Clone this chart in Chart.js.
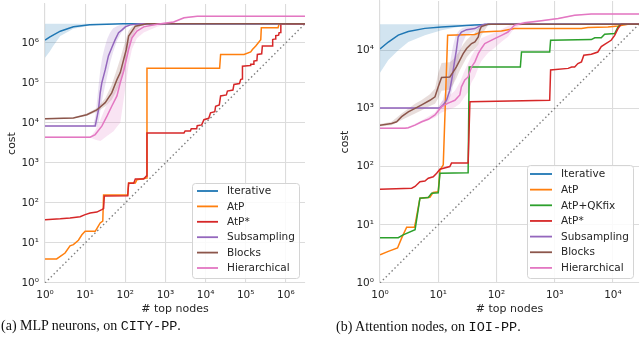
<!DOCTYPE html>
<html>
<head>
<meta charset="utf-8">
<script src="https://cdn.jsdelivr.net/npm/chart.js@4.4.1/dist/chart.umd.min.js"></script>
<style>
  html, body { margin: 0; padding: 0; background: #fff; }
  body { width: 640px; height: 343px; position: relative; overflow: hidden; }
  canvas { position: absolute; top: 0; }
  #left { left: 0; }
  #right { left: 320px; }
  .cap { position: absolute; font-family: "Liberation Serif", serif; font-size: 14px; color: #111; white-space: nowrap; }
  .cap span { font-family: "Liberation Mono", monospace; font-size: 13.5px; }
</style>
</head>
<body>
<canvas id="left" width="320" height="320"></canvas>
<canvas id="right" width="320" height="320"></canvas>
<div class="cap" style="left:1px; top:318px">(a) MLP neurons, on <span>CITY-PP</span>.</div>
<div class="cap" style="left:336px; top:319px">(b) Attention nodes, on <span>IOI-PP</span>.</div>
<script>
// tick values (powers of ten)
const leftTicks = [1, 10, 100, 1e3, 1e4, 1e5, 1e6];
const rightTicks = [1, 10, 100, 1e3, 1e4];

// ---------- (a) MLP neurons, CITY-PP ----------
const itLX = [1, 1.33, 2.4, 5.1, 13, 91, 3e6];
const itLY = [1.17e6, 1.4e6, 1.95e6, 2.5e6, 2.8e6, 2.98e6, 3e6];
const itLBandX = [1, 1.3, 1.6, 2.4, 5.1, 13, 91, 3e6];
const itLBandLo = [4.2e5, 6e5, 8.3e5, 1.47e6, 2.24e6, 2.7e6, 3e6, 3e6];
const itLBandHi = [3e6, 3e6, 3e6, 3e6, 3e6, 3e6, 3e6, 3e6];

const atpLX = [1, 1.95, 3.16, 4.2, 5.1, 6.8, 8.3, 10, 17.8, 20.4, 23.7, 27.5, 28.8, 115, 121, 178, 195, 335, 347,
  2.24e4, 2.37e4, 9.1e4, 1.33e5, 1.47e5, 1.78e5, 2.37e5, 2.45e5, 6.4e5, 6.8e5, 3e6];
const atpLY = [4, 4, 5.6, 8.5, 9.1, 11.7, 16, 19.5, 19.5, 24.5, 31.6, 35, 158, 158, 316, 316, 380, 420, 2.3e5,
  2.3e5, 5.1e5, 5.1e5, 5.9e5, 6.8e5, 8.3e5, 1.2e6, 2.37e6, 2.37e6, 3e6, 3e6];

const atpsLX = [1, 2.4, 4.2, 7.5, 10, 13.3, 19.5, 26, 28.8, 30, 115, 121, 162, 178, 288, 335, 347,
  2900, 3100, 4200, 4400, 6000, 6200, 8000, 9100, 1.2e4, 1.33e4, 1.7e4, 1.78e4, 2.2e4, 2.37e4, 3.3e4, 3.5e4,
  4.8e4, 5.1e4, 7e4, 7.5e4, 8.1e4, 8.3e4, 1.3e5, 1.33e5, 1.55e5, 1.6e5, 1.9e5, 1.95e5, 2.5e5, 2.6e5,
  4.6e5, 4.7e5, 5.4e5, 5.6e5, 6.6e5, 6.8e5, 7.4e5, 7.5e5, 3e6];
const atpsLY = [38, 40, 42, 45, 51, 56, 59, 68, 72, 148, 150, 309, 309, 398, 398, 468, 5600,
  5600, 6300, 6300, 7100, 7100, 8500, 8900, 1.2e4, 1.3e4, 1.78e4, 1.9e4, 2.6e4, 2.8e4, 4.7e4, 5e4, 6.2e4,
  6.6e4, 9.1e4, 9.6e4, 1.2e5, 1.25e5, 2.6e5, 2.7e5, 2.9e5, 2.9e5, 3.5e5, 3.6e5, 5.1e5, 5.3e5, 8.3e5,
  8.3e5, 1.2e6, 1.25e6, 1.5e6, 1.55e6, 1.78e6, 1.8e6, 3e6, 3e6];

const subLX = [1, 17.8, 21.5, 23.7, 26, 31.6, 38, 46, 56, 68, 83, 100, 133, 237, 3e6];
const subLY = [8300, 8300, 2.1e4, 5.6e4, 1e5, 2.1e5, 4.7e5, 7.5e5, 1.2e6, 1.78e6, 2.1e6, 2.5e6, 2.8e6, 2.98e6, 3e6];
const subLBandX = [1, 16, 18, 20, 22, 24, 27, 31, 36, 42, 50, 62, 80, 110, 200, 3e6];
const subLBandHi = [8600, 8600, 1.5e4, 4e4, 1e5, 2.2e5, 4.5e5, 8e5, 1.3e6, 1.8e6, 2.3e6, 2.6e6, 2.85e6, 2.95e6, 3e6, 3e6];
const subLBandLo = [8000, 8000, 8000, 8000, 1.1e4, 2e4, 4e4, 8e4, 1.6e5, 3.2e5, 6e5, 1.1e6, 1.8e6, 2.5e6, 2.95e6, 3e6];

const blkLX = [1, 5.1, 11, 19.5, 31.6, 46, 62, 75, 91, 106, 121, 147, 178, 347, 3e6];
const blkLY = [1.26e4, 1.33e4, 1.6e4, 2.1e4, 3.2e4, 5.6e4, 1.2e5, 1.8e5, 3.8e5, 6.8e5, 1.47e6, 1.95e6, 2.6e6, 3e6, 3e6];
const blkLBandX = [1, 5, 11, 20, 32, 46, 62, 75, 91, 106, 121, 147, 178, 250, 500, 3e6];
const blkLBandHi = [1.3e4, 1.38e4, 1.7e4, 2.4e4, 4.2e4, 9e4, 2.2e5, 4e5, 8e5, 1.3e6, 2e6, 2.5e6, 2.85e6, 3e6, 3e6, 3e6];
const blkLBandLo = [1.22e4, 1.28e4, 1.5e4, 1.9e4, 2.6e4, 3.8e4, 6.5e4, 1e5, 1.9e5, 3.5e5, 7e5, 1.3e6, 2e6, 2.7e6, 3e6, 3e6];

const hieLX = [1, 13.3, 17.8, 26, 35, 46, 62, 75, 91, 106, 121, 147, 195, 288, 620, 1600, 2900, 6200, 3e6];
const hieLY = [4400, 4400, 5100, 8300, 1.47e4, 2.6e4, 4.7e4, 1e5, 1.95e5, 3.8e5, 6.8e5, 1.33e6, 1.95e6, 2.5e6, 2.9e6, 3.3e6, 4.2e6, 4.6e6, 4.6e6];
const hieLBandX = [1, 14, 18, 24, 35, 51, 62, 75, 91, 106, 121, 147, 195, 288, 620, 1600, 2900, 6200, 3e6];
const hieLBandHi = [4600, 4600, 6500, 1.2e4, 3e4, 6e4, 9e4, 2e5, 4.5e5, 9e5, 1.4e6, 2e6, 2.5e6, 2.8e6, 3.05e6, 3.4e6, 4.35e6, 4.75e6, 4.75e6];
const hieLBandLo = [4200, 4200, 3800, 3500, 4700, 6200, 8000, 1e4, 3.8e4, 1.1e5, 2.8e5, 7e5, 1.3e6, 1.8e6, 2.5e6, 3.1e6, 4e6, 4.45e6, 4.45e6];

// ---------- (b) Attention nodes, IOI-PP ----------
const itRX = [1, 1.39, 2.06, 3.06, 5.9, 11.4, 22, 42.6, 82, 2.8e4];
const itRY = [1.05e4, 1.38e4, 1.82e4, 2.1e4, 2.37e4, 2.5e4, 2.6e4, 2.7e4, 2.8e4, 2.8e4];
const itRBandLo = [4100, 6800, 1e4, 1.38e4, 1.8e4, 2.2e4, 2.5e4, 2.7e4, 2.8e4, 2.8e4];
const itRBandHi = [2.8e4, 2.8e4, 2.8e4, 2.8e4, 2.8e4, 2.8e4, 2.8e4, 2.8e4, 2.8e4, 2.8e4];

const atpRX = [1, 1.39, 2, 2.35, 2.87, 3.9, 4.1, 4.85, 7.2, 8.2, 10, 10.7, 12.2, 14.5, 42.6, 55, 122, 158, 205,
  2880, 3720, 8200, 1.22e4, 1.8e4, 2.8e4];
const atpRY = [3.06, 3.5, 4, 5.9, 9.1, 9.1, 11.4, 28.6, 29.7, 36, 37, 87, 107, 1.8e4, 1.86e4, 2.05e4, 2.14e4, 2.25e4, 2.35e4,
  2.35e4, 2.45e4, 2.5e4, 2.6e4, 2.8e4, 2.8e4];

const qkRX = [1, 2.06, 2.5, 4, 4.25, 4.85, 6.75, 7.7, 10, 10.7, 32.6, 34, 257, 269, 820, 850, 4250, 4870, 6300, 7200,
  1.07e4, 1.22e4, 1.39e4, 2.8e4];
const qkRY = [6, 6, 6.7, 8.2, 12.2, 28.6, 29.4, 35, 35.6, 77, 78, 5150, 5150, 9300, 9300, 1.48e4, 1.52e4, 1.63e4, 1.63e4, 1.88e4,
  1.93e4, 2.5e4, 2.8e4, 2.8e4];

const atpsRX = [1, 3.5, 4, 4.85, 5.9, 6.75, 8.2, 9.4, 10.7, 15.8, 16.9, 32.6, 35, 820, 850, 1700, 1950, 2200, 2500, 2880,
  3160, 4250, 5500, 6300, 7200, 9300, 1.07e4, 1.22e4, 1.39e4, 2.8e4];
const atpsRY = [41, 42.5, 45.6, 55, 56.5, 63, 67, 77, 90, 100, 115, 115, 1300, 1380, 4560, 4870, 5150, 5150, 5900, 6300,
  8200, 8500, 9300, 1.15e4, 1.26e4, 1.48e4, 1.8e4, 2.35e4, 2.8e4, 2.8e4];

const subRX = [1, 10.7, 12.2, 13.9, 15.8, 17.4, 18.8, 20.5, 22, 25, 30.7, 42.6, 55, 63, 2.8e4];
const subRY = [1020, 1020, 1150, 1380, 2050, 3500, 5900, 1e4, 1.7e4, 2.05e4, 2.25e4, 2.35e4, 2.7e4, 2.8e4, 2.8e4];
const subRBandX = [1, 10, 12, 13.5, 15, 16.5, 18, 20, 23, 26, 30, 42, 55, 75, 2.8e4];
const subRBandHi = [1050, 1050, 1400, 2200, 4000, 7500, 1.2e4, 1.8e4, 2.2e4, 2.4e4, 2.5e4, 2.65e4, 2.8e4, 2.8e4, 2.8e4];
const subRBandLo = [990, 990, 1000, 1100, 1300, 1700, 2500, 4000, 8000, 1.3e4, 1.8e4, 2.1e4, 2.4e4, 2.7e4, 2.8e4];

const blkRX = [1, 1.58, 1.93, 2.35, 3.06, 4, 5.2, 7.2, 8.8, 10, 11.4, 15.8, 18.1, 20.5, 23.5, 26.8, 30.7, 37.3, 42.6, 48.7,
  51.6, 55, 72, 2.8e4];
const blkRY = [515, 550, 590, 720, 870, 1000, 1150, 1380, 1580, 2350, 3400, 3470, 4250, 5150, 6760, 8700, 1.07e4, 1.3e4, 1.39e4, 1.69e4,
  2.2e4, 2.55e4, 2.8e4, 2.8e4];
const blkRBandX = [1, 1.58, 2.35, 4, 5.2, 7.2, 8.8, 10, 11.4, 15.8, 18.1, 20.5, 23.5, 26.8, 30.7, 37.3, 42.6, 48.7, 55, 72, 2.8e4];
const blkRBandHi = [540, 590, 820, 1200, 1400, 1750, 2200, 4000, 6000, 6200, 7000, 8000, 1e4, 1.25e4, 1.5e4, 1.8e4, 2e4, 2.4e4, 2.8e4, 2.8e4, 2.8e4];
const blkRBandLo = [490, 515, 630, 820, 930, 1100, 1200, 1500, 2000, 2100, 2600, 3300, 4500, 5800, 7500, 9500, 1.05e4, 1.25e4, 1.8e4, 2.7e4, 2.8e4];

const hieRX = [1, 2.7, 3.06, 4, 5.2, 6.75, 8.8, 11.4, 14.8, 19.3, 23.5, 25, 28.6, 32.6, 37.3, 42.6, 48.7, 55, 63, 72,
  93, 122, 158, 205, 307, 590, 1150, 2200, 4250, 2.8e4];
const hieRY = [456, 456, 466, 515, 590, 650, 770, 1070, 1230, 1380, 1700, 2350, 3080, 3470, 5150, 6300, 8700, 1.07e4, 1.3e4, 1.39e4,
  1.58e4, 1.8e4, 2.05e4, 2.7e4, 2.95e4, 3.2e4, 3.5e4, 4e4, 4.17e4, 4.17e4];
const hieRBandX = [1, 3, 5.2, 8.8, 11.4, 14.8, 19.3, 23.5, 28.6, 32.6, 37.3, 42.6, 48.7, 55, 72, 93, 122, 158, 205, 307,
  590, 1150, 2200, 4250, 2.8e4];
const hieRBandHi = [470, 480, 620, 850, 1300, 1600, 2000, 2800, 4500, 6000, 8000, 1e4, 1.3e4, 1.6e4, 1.8e4, 2e4, 2.3e4, 2.6e4, 2.9e4, 3.1e4,
  3.3e4, 3.6e4, 4.1e4, 4.25e4, 4.25e4];
const hieRBandLo = [445, 445, 560, 700, 850, 950, 1050, 1200, 1600, 1900, 2800, 3500, 5000, 6500, 9000, 1.1e4, 1.4e4, 1.7e4, 2.4e4, 2.8e4,
  3.1e4, 3.4e4, 3.9e4, 4.1e4, 4.1e4];

// colours (matplotlib tab10)
const C = {
  iterative: '#1f77b4', atp: '#ff7f0e', qkfix: '#2ca02c', atps: '#d62728',
  sub: '#9467bd', blocks: '#8c564b', hier: '#e377c2'
};
const gridColor = '#dcdcdc';
const textColor = '#262626';
const FONT = 'DejaVu Sans';
const sup = ['\u2070', '\u00b9', '\u00b2', '\u00b3', '\u2074', '\u2075', '\u2076', '\u2077'];

function pts(xs, ys) {
  return xs.map((x, i) => ({ x: x, y: ys[i] }));
}

function line(label, color, xs, ys, order) {
  return {
    label: label, data: pts(xs, ys), borderColor: color, backgroundColor: color,
    borderWidth: 1.5, pointRadius: 0, fill: false, order: order, inLegend: true
  };
}

function band(color, xs, lo, hi, order) {
  return [
    { data: pts(xs, lo), borderColor: 'rgba(0,0,0,0)', borderWidth: 1, pointRadius: 0, fill: false, order: order },
    { data: pts(xs, hi), borderColor: 'rgba(0,0,0,0)', borderWidth: 1, pointRadius: 0, fill: '-1', backgroundColor: color, order: order }
  ];
}

function alpha(hex, a) {
  const n = parseInt(hex.slice(1), 16);
  return `rgba(${n >> 16}, ${(n >> 8) & 255}, ${n & 255}, ${a})`;
}

function diagonal(max) {
  return {
    data: [{ x: 1, y: 1 }, { x: max, y: max }], borderColor: '#808080', borderWidth: 1.4,
    borderDash: [1.5, 2.6], pointRadius: 0, fill: false, order: 40
  };
}

// draws the legend inside the axes, like matplotlib's loc='lower right'
const insetLegend = {
  id: 'insetLegend',
  afterDraw(chart, args, o) {
    const ctx = chart.ctx;
    const items = chart.data.datasets.filter(d => d.inLegend);
    ctx.save();
    ctx.beginPath();
    ctx.roundRect(o.x + 0.5, o.y + 0.5, o.w, o.h, 3);
    ctx.fillStyle = 'rgba(255,255,255,0.85)';
    ctx.fill();
    ctx.strokeStyle = '#d4d4d4';
    ctx.lineWidth = 1;
    ctx.stroke();
    ctx.font = `10.5px "${FONT}"`;
    ctx.textBaseline = 'middle';
    items.forEach((d, i) => {
      const y = o.y0 + i * o.step;
      ctx.beginPath();
      ctx.moveTo(o.lx0, y);
      ctx.lineTo(o.lx1, y);
      ctx.strokeStyle = d.borderColor;
      ctx.lineWidth = 1.8;
      ctx.stroke();
      ctx.fillStyle = textColor;
      ctx.fillText(d.label, o.tx, y + 0.5);
    });
    ctx.restore();
  }
};

function axes(xTicks, yTicks, xmax, ymax, yWidth, yTitlePad) {
  const tickOpts = {
    font: { family: FONT, size: 10.5 }, color: textColor, maxRotation: 0, autoSkip: false,
    callback: v => '10' + sup[Math.round(Math.log10(v))]
  };
  return {
    x: {
      type: 'logarithmic', min: 1, max: xmax,
      afterBuildTicks: s => { s.ticks = xTicks.map(v => ({ value: v })); },
      afterFit: s => { s.height = 37; s.paddingLeft = 0; s.paddingRight = 0; },
      grid: { color: gridColor, lineWidth: 1.1, drawTicks: false },
      border: { color: gridColor, width: 1.1 },
      ticks: Object.assign({ padding: 6 }, tickOpts),
      title: { display: true, text: '# top nodes', color: textColor, font: { family: FONT, size: 11 }, padding: { top: 0, bottom: 4.4 } }
    },
    y: {
      type: 'logarithmic', min: 1, max: ymax,
      afterBuildTicks: s => { s.ticks = yTicks.map(v => ({ value: v })); },
      afterFit: s => { s.width = yWidth; s.paddingTop = 0; s.paddingBottom = 0; },
      grid: { color: gridColor, lineWidth: 1.1, drawTicks: false },
      border: { color: gridColor, width: 1.1 },
      ticks: Object.assign({ padding: 6 }, tickOpts),
      title: { display: true, text: 'cost', color: textColor, font: { family: FONT, size: 11 }, padding: { top: yTitlePad, bottom: 0 } }
    }
  };
}

function baseOptions(scales, padding, legend) {
  return {
    responsive: false, animation: false, devicePixelRatio: 1, events: [],
    layout: { padding: padding },
    scales: scales,
    plugins: { legend: { display: false }, tooltip: { enabled: false }, insetLegend: legend }
  };
}

// ---------- left chart ----------
const leftSets = [
  line('Iterative', C.iterative, itLX, itLY, 7),
  line('AtP', C.atp, atpLX, atpLY, 6),
  line('AtP*', C.atps, atpsLX, atpsLY, 5),
  line('Subsampling', C.sub, subLX, subLY, 3),
  line('Blocks', C.blocks, blkLX, blkLY, 2),
  line('Hierarchical', C.hier, hieLX, hieLY, 1),
  ...band(alpha(C.iterative, 0.2), itLBandX, itLBandLo, itLBandHi, 30),
  ...band(alpha(C.sub, 0.2), subLBandX, subLBandLo, subLBandHi, 29),
  ...band(alpha(C.blocks, 0.2), blkLBandX, blkLBandLo, blkLBandHi, 28),
  ...band(alpha(C.hier, 0.2), hieLBandX, hieLBandLo, hieLBandHi, 27),
  diagonal(3e6)
];

new Chart(document.getElementById('left'), {
  type: 'line',
  data: { datasets: leftSets },
  options: baseOptions(
    axes(leftTicks, leftTicks, 3e6, 9.3e6, 45, 5.4),
    { top: 4, right: 15, bottom: 0, left: 0 },
    { x: 192, y: 183, w: 107, h: 95, y0: 191, step: 15.4, lx0: 197, lx1: 218, tx: 227 }
  ),
  plugins: [insetLegend]
});

// ---------- right chart ----------
const rightSets = [
  line('Iterative', C.iterative, itRX, itRY, 7),
  line('AtP', C.atp, atpRX, atpRY, 6),
  line('AtP+QKfix', C.qkfix, qkRX, qkRY, 5),
  line('AtP*', C.atps, atpsRX, atpsRY, 4),
  line('Subsampling', C.sub, subRX, subRY, 3),
  line('Blocks', C.blocks, blkRX, blkRY, 2),
  line('Hierarchical', C.hier, hieRX, hieRY, 1),
  ...band(alpha(C.iterative, 0.2), itRX, itRBandLo, itRBandHi, 30),
  ...band(alpha(C.sub, 0.2), subRBandX, subRBandLo, subRBandHi, 29),
  ...band(alpha(C.blocks, 0.2), blkRBandX, blkRBandLo, blkRBandHi, 28),
  ...band(alpha(C.hier, 0.2), hieRBandX, hieRBandLo, hieRBandHi, 27),
  diagonal(2.8e4)
];

new Chart(document.getElementById('right'), {
  type: 'line',
  data: { datasets: rightSets },
  options: baseOptions(
    axes(rightTicks, rightTicks, 2.8e4, 7e4, 60, 18.4),
    { top: 1, right: 1, bottom: 0, left: 0 },
    { x: 207, y: 165, w: 106, h: 113, y0: 174, step: 15.65, lx0: 210, lx1: 232, tx: 241 }
  ),
  plugins: [insetLegend]
});
</script>
</body>
</html>
